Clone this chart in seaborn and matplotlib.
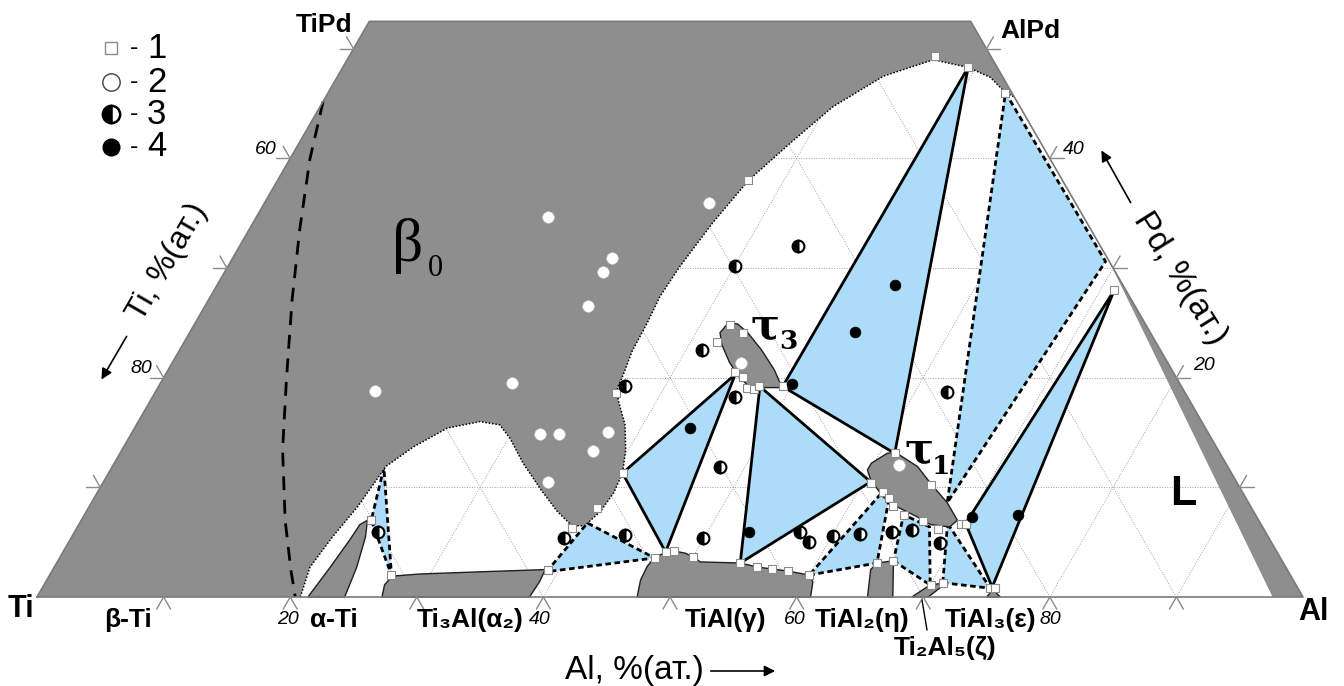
import numpy as np
import pandas as pd
import matplotlib
matplotlib.use("Agg")
import matplotlib.pyplot as plt
import seaborn as sns
from matplotlib.patches import Polygon

sns.set_theme(style="white")
plt.rcParams["font.family"] = ["Liberation Sans", "DejaVu Sans"]
plt.rcParams["text.color"] = "black"

# ---------------- compositions, at.% (Al, Pd); Ti is the balance ----------------
PD_TOP = 52.5
GRID = list(range(10, 100, 10))

beta0_boundary = [(20.8, 0), (20.2, 2.7), (20.6, 5.5), (21.2, 8.2), (21.4, 10.0), (21.6, 11.9),
                  (22.9, 13.7), (24.7, 15.4), (27.0, 16.0), (28.7, 15.7), (30.1, 14.5), (32.3, 12.2),
                  (34.9, 9.8), (37.2, 7.8), (39.0, 6.5), (40.0, 6.5), (40.6, 7.8), (40.8, 9.5),
                  (40.6, 11.3), (39.8, 13.4), (38.6, 15.7), (36.9, 18.0), (36.3, 19.1), (36.2, 20.1),
                  (35.8, 22.4), (35.7, 25.0), (35.5, 27.4), (35.7, 30.1), (36.3, 34.1), (37.2, 38.0),
                  (38.8, 41.4), (40.5, 44.7), (43.1, 47.5), (46.3, 49.0), (49.4, 48.3), (51.6, 47.4),
                  (53.5, 46.0), (54.4, 45.6)]
beta_ti_limit = [(0, 45.2), (1.6, 39.9), (4.0, 33.5), (6.6, 27.1), (9.8, 19.8), (12.7, 13.4),
                 (16.1, 7.0), (18.8, 2.5), (20.4, 0)]
alpha_ti = [(21.4, 0), (21.8, 2.7), (22.1, 5.2), (22.2, 6.6), (22.6, 7.0), (23.2, 5.5), (23.9, 2.7), (24.3, 0)]
ti3al = [(27.25, 0), (26.9, 1.1), (27.1, 1.9), (29.2, 2.1), (33.9, 2.3), (38.9, 2.5), (39.0, 1.4), (38.9, 0)]
tial = [(47.4, 0), (46.9, 1.55), (46.8, 2.83), (47.0, 3.56), (47.6, 4.1), (48.2, 4.2), (49.2, 4.0),
        (50.0, 3.65), (50.8, 3.2), (54.0, 3.1), (55.5, 2.74), (56.8, 2.55), (58.1, 2.37), (60.0, 2.0),
        (60.6, 1.37), (61.1, 0)]
tial2 = [(65.6, 0), (64.6, 2.5), (64.8, 3.1), (66.0, 3.3), (67.6, 0)]
ti2al5 = [(69.1, 0), (70.0, 1.1), (71.2, 1.3), (70.4, 0)]
tial3 = [(75.0, 0), (75.2, 0.64), (76.1, 0)]
tau3 = [(42.1, 25.0), (41.9, 24.1), (42.6, 23.0), (44.0, 21.4), (45.5, 20.0), (46.8, 19.1), (49.3, 19.1),
        (47.9, 20.7), (46.0, 22.5), (44.1, 24.1), (42.9, 24.9)]
tau1 = [(59.8, 12.2), (60.6, 13.1), (61.2, 13.2), (63.6, 11.9), (65.6, 10.2), (67.6, 8.6), (69.2, 7.0),
        (68.9, 6.4), (67.3, 6.6), (65.9, 7.3), (64.1, 8.1), (62.3, 9.1), (60.5, 10.7), (59.8, 11.6)]
al_side = [(69.4, 30.6), (100, 0), (97.6, 0)]

# three-phase fields
tri_solid = [
    [(40.6, 11.3), (45.0, 20.3), (47.6, 4.1)],
    [(47.5, 19.2), (54.0, 3.1), (60.6, 10.5)],
    [(49.3, 19.2), (49.4, 48.3), (61.2, 13.1)],
    [(71.1, 28.0), (70.0, 6.7), (75.0, 0.9)],
]
tri_dashed = [
    [(21.5, 11.8), (22.9, 7.0), (27.0, 2.0)],
    [(39.1, 2.3), (40.1, 6.75), (47.0, 3.56)],
    [(53.5, 46.0), (69.1, 30.6), (67.6, 8.6)],
    [(60.0, 2.0), (64.8, 3.1), (62.8, 9.0), (62.0, 9.6)],
    [(66.0, 3.3), (70.0, 1.1), (67.3, 6.4), (64.7, 7.5)],
    [(70.9, 1.3), (74.9, 0.8), (68.9, 6.4), (68.7, 6.4)],
]

# experimental alloys: 1 - phase boundary, 2 - single, 3 - two-phase, 4 - three-phase
pts1 = [(46.3, 49.3), (49.4, 48.3), (53.5, 46.0), (37.2, 38.0), (36.4, 18.6), (40.6, 11.3), (40.2, 8.1),
        (39.1, 6.3), (22.9, 7.0), (27.0, 2.0), (39.1, 2.5), (47.0, 3.6), (47.6, 4.1), (48.2, 4.2),
        (50.0, 3.65), (54.0, 3.1), (55.5, 2.7), (56.8, 2.55), (58.1, 2.4), (60.0, 2.0), (42.3, 24.8),
        (43.7, 24.1), (42.1, 23.3), (44.9, 20.5), (45.7, 20.1), (46.5, 19.1), (47.1, 19.0), (47.4, 19.2),
        (49.3, 19.2), (61.2, 13.1), (60.7, 10.4), (62.0, 9.6), (62.8, 9.0), (63.5, 8.3), (64.7, 7.5),
        (66.5, 6.9), (68.1, 6.2), (65.5, 10.2), (69.6, 6.7), (70.0, 6.7), (64.8, 3.1), (66.0, 3.3),
        (70.1, 1.1), (70.9, 1.3), (74.9, 0.8), (75.3, 0.8), (71.1, 28.0)]
pts2 = [(17.3, 18.8), (27.8, 19.5), (32.3, 14.9), (33.8, 14.9), (37.6, 15.05), (37.3, 13.3), (35.1, 10.5),
        (23.0, 34.7), (35.1, 35.9), (30.0, 30.9), (29.9, 29.6), (30.3, 26.5), (44.9, 21.35), (62.1, 12.0)]
pts3 = [(24.0, 5.9), (38.9, 5.4), (43.6, 5.7), (36.8, 19.25), (41.3, 22.5), (46.0, 18.25), (48.0, 11.9),
        (49.9, 5.4), (57.3, 5.9), (58.5, 5.0), (60.1, 5.6), (62.1, 5.75), (64.6, 5.9), (66.1, 6.1),
        (68.9, 4.9), (62.5, 18.7), (44.1, 32.0), (40.0, 30.2)]
pts4 = [(43.9, 15.4), (53.3, 5.9), (49.9, 19.4), (52.5, 24.2), (53.5, 28.5), (70.2, 7.3), (73.7, 7.5)]

legend_labels = ["1", "2", "3", "4"]

GRAY = "#8e8e8e"
BLUE = "#acdcf8"
SQ3 = np.sqrt(3) / 2


def tern(al, pdv):
    al = np.asarray(al, dtype=float)
    pdv = np.asarray(pdv, dtype=float)
    return al / 100 + pdv / 200, pdv / 100 * SQ3


def xy(pts):
    a = np.asarray(pts, dtype=float)
    x, y = tern(a[:, 0], a[:, 1])
    return np.column_stack([x, y])


fig = plt.figure(figsize=(13.44, 6.86), dpi=100)
ax = fig.add_axes([0, 0, 1, 1])
ax.set_xlim(-37 / 1266, 1307 / 1266)
ax.set_ylim(-89 / 1266, 597 / 1266)
ax.axis("off")

frame = [(0, 0), (100, 0), (100 - PD_TOP, PD_TOP), (0, PD_TOP)]
clip = Polygon(xy(frame), closed=True, facecolor="white", edgecolor="none", zorder=0)
ax.add_patch(clip)

# dotted composition grid
grid_style = dict(color="#a0a0a0", lw=0.7, ls=(0, (1, 1.6)), zorder=1)
for k in GRID:
    segs = [[(k, 0), (k, min(100 - k, PD_TOP))],
            [(100 - k, 0), (100 - k - min(100 - k, PD_TOP), min(100 - k, PD_TOP))]]
    if k < PD_TOP:
        segs.append([(0, k), (100 - k, k)])
    for s in segs:
        p = xy(s)
        ln, = ax.plot(p[:, 0], p[:, 1], **grid_style)
        ln.set_clip_path(clip)

# three-phase fields
for tri in tri_solid:
    ax.add_patch(Polygon(xy(tri), closed=True, facecolor=BLUE, edgecolor="black", lw=2.0, zorder=2))
for tri in tri_dashed:
    ax.add_patch(Polygon(xy(tri), closed=True, facecolor=BLUE, edgecolor="none", zorder=2))
    p = xy(tri + [tri[0]])
    ax.plot(p[:, 0], p[:, 1], color="black", lw=2.0, ls=(0, (2.0, 1.3)), zorder=3)

# single-phase fields
beta0 = [(0, 0)] + beta0_boundary + [(100 - PD_TOP, PD_TOP), (0, PD_TOP)]
ax.add_patch(Polygon(xy(beta0), closed=True, facecolor=GRAY, edgecolor="none", zorder=4))
ax.add_patch(Polygon(xy(al_side), closed=True, facecolor=GRAY, edgecolor="none", zorder=4))
b = xy(beta0_boundary)
ax.plot(b[:, 0], b[:, 1], color="black", lw=1.1, ls=(0, (1, 1.2)), zorder=5)
for ph in [alpha_ti, ti3al, tial, tial2, ti2al5, tial3, tau3, tau1]:
    ax.add_patch(Polygon(xy(ph), closed=True, facecolor=GRAY, edgecolor="#202020", lw=1.0, zorder=4))
d = xy(beta_ti_limit)
ax.plot(d[:, 0], d[:, 1], color="black", lw=2.0, ls=(0, (5, 3.5)), zorder=5)

# frame and ticks
f = xy(frame + [frame[0]])
ax.plot(f[:, 0], f[:, 1], color="#7a7a7a", lw=1.2, zorder=5)
TL = 1.1
tick_style = dict(color="#8a8a8a", lw=1.0, zorder=5)
for k in GRID:
    for e in [(k, -TL), (k + TL, -TL)]:
        p = xy([(k, 0), e])
        ax.plot(p[:, 0], p[:, 1], **tick_style)
for k in range(10, 60, 10):
    for e in [(-TL, k), (-TL, k + TL)]:
        p = xy([(0, k), e])
        ax.plot(p[:, 0], p[:, 1], **tick_style)
    for e in [(100 - k + TL, k), (100 - k, k + TL)]:
        p = xy([(100 - k, k), e])
        ax.plot(p[:, 0], p[:, 1], **tick_style)

# experimental points
rows = [(a, p, "1") for a, p in pts1] + [(a, p, "2") for a, p in pts2] + \
       [(a, p, "3") for a, p in pts3] + [(a, p, "4") for a, p in pts4]
df = pd.DataFrame(rows, columns=["Al", "Pd", "kind"])
df["x"], df["y"] = tern(df["Al"], df["Pd"])
sns.scatterplot(data=df[df.kind == "1"], x="x", y="y", marker="s", s=26, color="white",
                edgecolor="#8a8a8a", linewidth=0.8, ax=ax, zorder=7, legend=False)
sns.scatterplot(data=df[df.kind == "2"], x="x", y="y", marker="o", s=70, color="white",
                edgecolor="#d0d0d0", linewidth=0.4, ax=ax, zorder=7, legend=False)
sns.scatterplot(data=df[df.kind == "4"], x="x", y="y", marker="o", s=60, color="black",
                edgecolor="black", linewidth=0.5, ax=ax, zorder=7, legend=False)
h = df[df.kind == "3"]
ax.plot(h["x"], h["y"], ls="none", marker="o", ms=8.5, fillstyle="left", markerfacecolor="black",
        markerfacecoloralt="white", markeredgecolor="black", mew=1.5, zorder=7)
ax.set_xlabel("")
ax.set_ylabel("")


def T(px, py):
    return px / 1344, 1 - py / 686


kw = dict(transform=ax.transAxes, zorder=10)

# legend
leg_y = [48, 82, 114, 147]
ax.plot(*T(111, leg_y[0]), marker="s", ms=8.5, mfc="white", mec="#8a8a8a", mew=1.0, **kw)
ax.plot(*T(111, leg_y[1]), marker="o", ms=12.5, mfc="white", mec="#404040", mew=1.0, **kw)
ax.plot(*T(111, leg_y[2]), marker="o", ms=12.5, fillstyle="left", mfc="black", mfcalt="white",
        mec="black", mew=1.8, **kw)
ax.plot(*T(111, leg_y[3]), marker="o", ms=12, mfc="black", mec="black", **kw)
for yy, lab in zip(leg_y, legend_labels):
    ax.text(*T(130, yy), "-", fontsize=18, ha="left", va="center", **kw)
    ax.text(*T(147, yy), lab, fontsize=25, ha="left", va="center", **kw)

# corner and phase labels
bold = dict(fontweight="bold", **kw)
PH = 19
ax.text(*T(8, 609), "Ti", fontsize=22, ha="left", va="center", **bold)
ax.text(*T(1298, 612), "Al", fontsize=22, ha="left", va="center", **bold)
ax.text(*T(352, 25), "TiPd", fontsize=19, ha="right", va="center", **bold)
ax.text(*T(1000, 31), "AlPd", fontsize=19, ha="left", va="center", **bold)
ax.text(*T(128, 620), "β-Ti", fontsize=PH, ha="center", va="center", **bold)
ax.text(*T(334, 620), "α-Ti", fontsize=PH, ha="center", va="center", **bold)
ax.text(*T(470, 620), "Ti₃Al(α₂)", fontsize=PH, ha="center", va="center", **bold)
ax.text(*T(726, 620), "TiAl(γ)", fontsize=PH, ha="center", va="center", **bold)
ax.text(*T(862, 620), "TiAl₂(η)", fontsize=PH, ha="center", va="center", **bold)
ax.text(*T(991, 620), "TiAl₃(ε)", fontsize=PH, ha="center", va="center", **bold)
ax.text(*T(945, 648), "Ti₂Al₅(ζ)", fontsize=PH, ha="center", va="center", **bold)
ax.plot([922 / 1344, 927 / 1344], [1 - 600 / 686, 1 - 630 / 686], color="black", lw=1.0, **kw)

ital = dict(fontstyle="italic", fontsize=14, va="center", **kw)
for px, lab in [(288, "20"), (540, "40"), (795, "60"), (1050, "80")]:
    ax.text(*T(px, 620), lab, ha="center", **ital)
ax.text(*T(277, 150), "60", ha="right", **ital)
ax.text(*T(152, 369), "80", ha="right", **ital)
ax.text(*T(1063, 150), "40", ha="left", **ital)
ax.text(*T(1193, 366), "20", ha="left", **ital)

# axis titles with arrows
ax.text(*T(565, 670), "Al, %(ат.)", fontsize=24, ha="left", va="center", **kw)
ax.annotate("", xy=T(778, 671), xytext=T(708, 671), xycoords="axes fraction",
            arrowprops=dict(arrowstyle="-|>", color="black", lw=1.2, mutation_scale=16), zorder=10)
ax.text(*T(1180, 278), "Pd, %(ат.)", fontsize=24, ha="center", va="center", rotation=-58, **kw)
ax.annotate("", xy=T(1100, 148), xytext=T(1132, 205), xycoords="axes fraction",
            arrowprops=dict(arrowstyle="-|>", color="black", lw=1.2, mutation_scale=16), zorder=10)
ax.text(*T(168, 262), "Ti, %(ат.)", fontsize=23, ha="center", va="center", rotation=60, **kw)
ax.annotate("", xy=T(100, 382), xytext=T(128, 334), xycoords="axes fraction",
            arrowprops=dict(arrowstyle="-|>", color="black", lw=1.2, mutation_scale=16), zorder=10)

# field labels
ax.text(*T(392, 246), "β", fontsize=44, family="Liberation Serif", ha="left", va="center", **kw)
ax.text(*T(428, 268), "0", fontsize=22, family="Liberation Serif", ha="left", va="center", **kw)
ax.text(*T(751, 327), "τ", fontsize=31, family="DejaVu Serif", fontweight="bold", ha="left", va="center", **kw)
ax.text(*T(779, 342), "3", fontsize=19, family="DejaVu Serif", fontweight="bold", ha="left", va="center", **kw)
ax.text(*T(905, 451), "τ", fontsize=31, family="DejaVu Serif", fontweight="bold", ha="left", va="center", **kw)
ax.text(*T(932, 466), "1", fontsize=19, family="DejaVu Serif", fontweight="bold", ha="left", va="center", **kw)
ax.text(*T(1183, 494), "L", fontsize=31, ha="center", va="center", **bold)

fig.savefig("out.png", dpi=100)
